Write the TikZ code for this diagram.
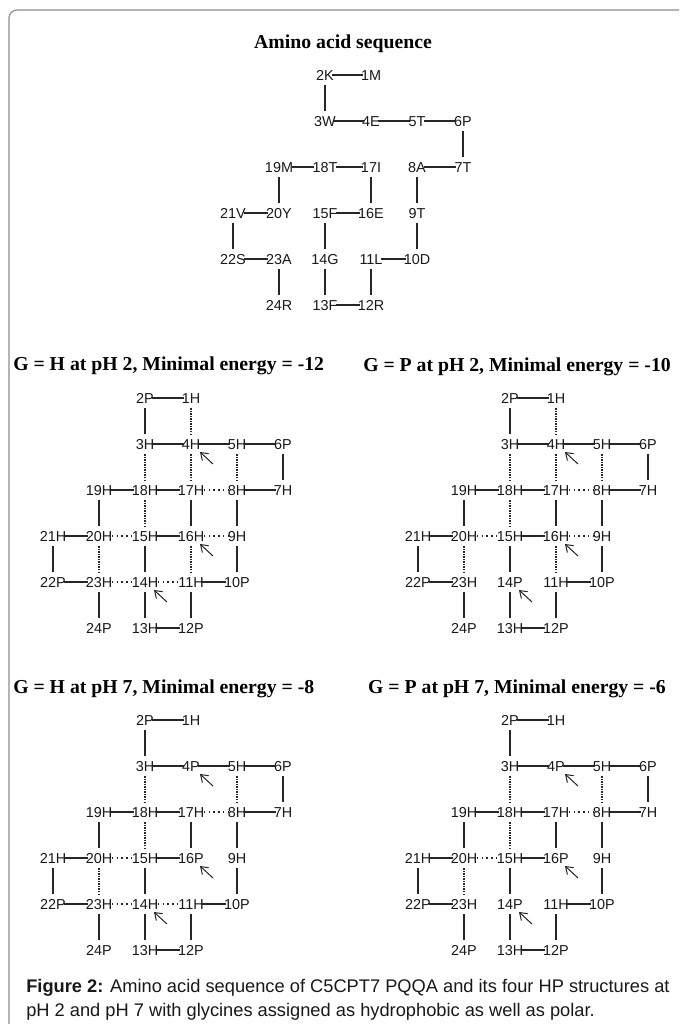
\documentclass[tikz,border=0pt]{standalone}
\usepackage{fontspec}
\setmainfont{Liberation Sans}
\newfontfamily\titlefont{Liberation Serif}
\usetikzlibrary{arrows.meta}

\newcommand\chainbonds[1]{%
  \foreach \a/\b in {2/1,3/4,4/5,5/6,8/7,11/10,13/12,15/16,18/17,19/18,21/20,22/23}
    {\draw[hbond] (#1\a.east) -- (#1\b.west);}
  \foreach \a/\b in {2/3,6/7,8/9,9/10,11/12,14/13,15/14,17/16,19/20,21/22,23/24}
    {\draw[vbond] (#1\a.south) -- (#1\b.north);}
}
\newcommand\hppanel[6]{%
  \foreach \i/\c/\r/\t in {1/3/0/H,2/2/0/P,3/2/1/H,4/3/1/#4,5/4/1/H,6/5/1/P,7/5/2/H,8/4/2/H,9/4/3/H,10/4/4/P,11/3/4/H,12/3/5/P,13/2/5/H,14/2/4/#5,15/2/3/H,16/3/3/#6,17/3/2/H,18/2/2/H,19/1/2/H,20/1/3/H,21/0/3/H,22/0/4/P,23/1/4/H,24/1/5/P}
    {\node[lab] (#1\i) at ({#2+46*\c},{#3+46*\r}) {\i\t};}
  \chainbonds{#1}
  \foreach \k in {4,14,16}
    {\draw[hint] ([shift={(22,20)}]#1\k.center) -- ([shift={(9,8)}]#1\k.center);}
}

\begin{document}
\begin{tikzpicture}[x=0.75pt,y=-0.75pt,
  lab/.style={inner xsep=0pt, inner ysep=3.6pt, text=black!90,
    font=\fontsize{10.8}{12}\selectfont, text height=7.7pt, text depth=0pt},
  bond/.style={line width=0.8pt, black!85},
  hbond/.style={bond, shorten <=-1.2pt, shorten >=-1.5pt},
  vbond/.style={bond},
  contactv/.style={line width=1.4pt, black!85, dash pattern=on 1pt off 0.9pt},
  contacth/.style={line width=1.2pt, black!85, dash pattern=on 1pt off 2.6pt,
    shorten <=-0.5pt, shorten >=-0.5pt},
  hint/.style={line width=0.75pt, black!85, -{Straight Barb[length=5pt,width=7pt]}},
  ttl/.style={font=\titlefont\bfseries\fontsize{14.8}{16}\selectfont, inner sep=0pt},
  captext/.style={font=\fontsize{13.7}{16}\selectfont, inner sep=0pt, text=black!90}
]
\useasboundingbox (0,0) rectangle (679,1024);
\clip (0,0) rectangle (679,1024);
\fill[white] (0,0) rectangle (679,1024);
% frame
\draw[black!45, line width=0.9pt, rounded corners=6pt] (9,1100) -- (9,10) -- (720,10);

% main title
\node[ttl, anchor=base] (t0) at (343,49) {Amino acid sequence};

% amino acid sequence
\foreach \i/\c/\r/\t in {1/3/0/M,2/2/0/K,3/2/1/W,4/3/1/E,5/4/1/T,6/5/1/P,7/5/2/T,8/4/2/A,9/4/3/T,10/4/4/D,11/3/4/L,12/3/5/R,13/2/5/F,14/2/4/G,15/2/3/F,16/3/3/E,17/3/2/I,18/2/2/T,19/1/2/M,20/1/3/Y,21/0/3/V,22/0/4/S,23/1/4/A,24/1/5/R}
  {\node[lab] (s\i) at ({233+46*\c},{75+46*\r}) {\i\t};}
\chainbonds{s}

% panel titles
\node[ttl, anchor=base west] (t1) at (13,370) {G = H at pH 2, Minimal energy = -12};
\node[ttl, anchor=base] (t2) at (517,371) {G = P at pH 2, Minimal energy = -10};
\node[ttl, anchor=base west] (t3) at (13,693) {G = H at pH 7, Minimal energy = -8};
\node[ttl, anchor=base] (t4) at (517,693) {G = P at pH 7, Minimal energy = -6};

% panel 1
\hppanel{a}{53}{398}{H}{H}{H}
\foreach \a/\b in {1/4,3/18,4/17,5/8,18/15,20/23,16/11}
  {\draw[contactv] (a\a.south) -- (a\b.north);}
\foreach \a/\b in {17/8,20/15,16/9,23/14,14/11}
  {\draw[contacth] (a\a.east) -- (a\b.west);}

% panel 2
\hppanel{b}{418}{398}{H}{P}{H}
\foreach \a/\b in {1/4,3/18,4/17,5/8,18/15,20/23,16/11}
  {\draw[contactv] (b\a.south) -- (b\b.north);}
\foreach \a/\b in {17/8,20/15,16/9}
  {\draw[contacth] (b\a.east) -- (b\b.west);}

% panel 3
\hppanel{c}{53}{720}{P}{H}{P}
\foreach \a/\b in {3/18,5/8,18/15,20/23}
  {\draw[contactv] (c\a.south) -- (c\b.north);}
\foreach \a/\b in {17/8,20/15,23/14,14/11}
  {\draw[contacth] (c\a.east) -- (c\b.west);}

% panel 4
\hppanel{d}{418}{720}{P}{P}{P}
\foreach \a/\b in {3/18,5/8,18/15,20/23}
  {\draw[contactv] (d\a.south) -- (d\b.north);}
\foreach \a/\b in {17/8,20/15}
  {\draw[contacth] (d\a.east) -- (d\b.west);}

% caption
\node[captext, anchor=base west] (c1) at (26,992) {\textbf{Figure 2:} Amino acid sequence of C5CPT7 PQQA and its four HP structures at};
\node[captext, anchor=base west] (c2) at (26,1016) {pH 2 and pH 7 with glycines assigned as hydrophobic as well as polar.};
\end{tikzpicture}
\end{document}
